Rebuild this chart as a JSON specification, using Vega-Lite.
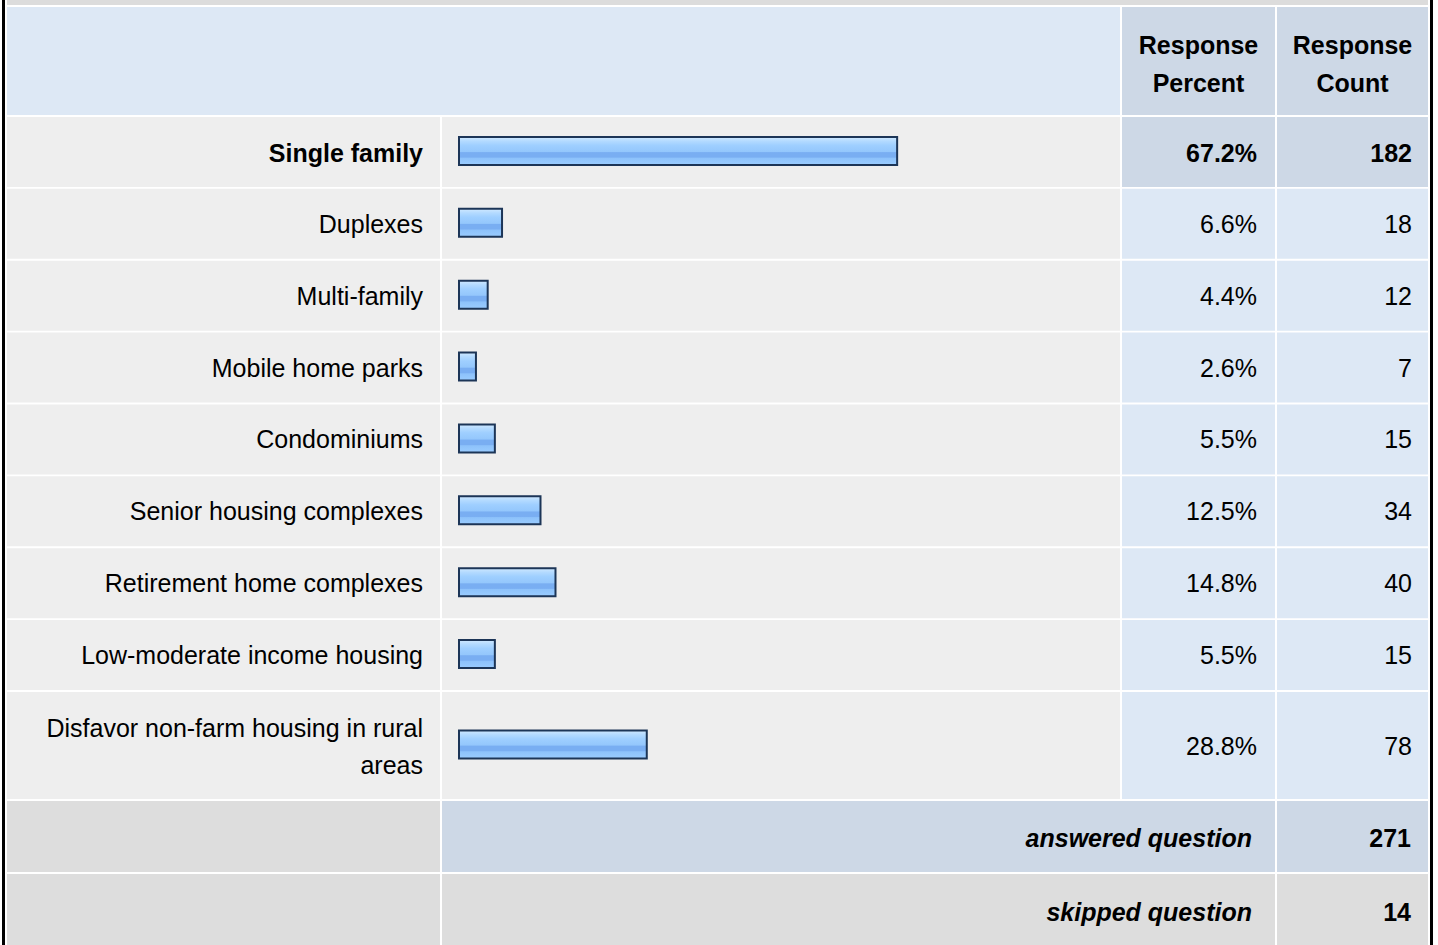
{
  "$schema": "https://vega.github.io/schema/vega-lite/v6.json",
  "background": "white",
  "padding": {"left": 2, "top": 0, "right": 0, "bottom": 0},
  "config": {
    "view": {"stroke": null},
    "concat": {"spacing": 2},
    "text": {"font": "Liberation Sans", "fontSize": 25, "color": "#000000", "letterSpacing": 0.2}
  },
  "datasets": {
    "responses": [
      {"answer": "Single family", "pct": 0.672, "count": 182},
      {"answer": "Duplexes", "pct": 0.066, "count": 18},
      {"answer": "Multi-family", "pct": 0.044, "count": 12},
      {"answer": "Mobile home parks", "pct": 0.026, "count": 7},
      {"answer": "Condominiums", "pct": 0.055, "count": 15},
      {"answer": "Senior housing complexes", "pct": 0.125, "count": 34},
      {"answer": "Retirement home complexes", "pct": 0.148, "count": 40},
      {"answer": "Low-moderate income housing", "pct": 0.055, "count": 15},
      {"answer": "Disfavor non-farm housing in rural\nareas", "pct": 0.288, "count": 78}
    ],
    "summary": [
      {"label": "answered question", "count": 271},
      {"label": "skipped question", "count": 14}
    ],
    "headers": [
      {"column": "Response\nPercent"},
      {"column": "Response\nCount"}
    ]
  },
  "hconcat": [
    {
      "width": 3, "height": 945,
      "view": {"fill": "#000000"},
      "data": {"values": [{}]},
      "mark": {"type": "rect", "color": "#000000"},
      "encoding": {"x": {"value": 0}, "x2": {"value": "width"}, "y": {"value": 0}, "y2": {"value": "height"}}
    },
    {
      "vconcat": [
        {
          "width": 1421, "height": 5,
          "view": {"fill": "#dcdcdc"},
          "data": {"values": [{}]},
          "mark": {"type": "rect", "color": "#dcdcdc"},
          "encoding": {"x": {"value": 0}, "x2": {"value": "width"}, "y": {"value": 0}, "y2": {"value": "height"}}
        },
        {
          "hconcat": [
            {
              "width": 1113, "height": 108,
              "view": {"fill": "#dde8f5"},
              "data": {"values": [{}]},
              "mark": {"type": "rect", "color": "#dde8f5"},
              "encoding": {"x": {"value": 0}, "x2": {"value": "width"}, "y": {"value": 0}, "y2": {"value": "height"}}
            },
            {
              "width": 153, "height": 108,
              "data": {"name": "headers"},
              "transform": [{"filter": "test(/Percent/, datum.column)"}],
              "encoding": {
                "x": {"field": "column", "type": "nominal", "axis": null},
                "y": {"field": "column", "type": "nominal", "axis": null, "scale": {"paddingInner": 0, "paddingOuter": 0}}
              },
              "layer": [
                {"mark": {"type": "rect", "color": "#cdd8e6"}},
                {"mark": {"type": "text", "align": "center", "baseline": "middle", "fontWeight": "bold", "letterSpacing": 0, "lineBreak": "\n", "lineHeight": 37.5, "dy": -15}, "encoding": {"text": {"field": "column"}}}
              ]
            },
            {
              "width": 151, "height": 108,
              "data": {"name": "headers"},
              "transform": [{"filter": "test(/Count/, datum.column)"}],
              "encoding": {
                "x": {"field": "column", "type": "nominal", "axis": null},
                "y": {"field": "column", "type": "nominal", "axis": null, "scale": {"paddingInner": 0, "paddingOuter": 0}}
              },
              "layer": [
                {"mark": {"type": "rect", "color": "#cdd8e6"}},
                {"mark": {"type": "text", "align": "center", "baseline": "middle", "fontWeight": "bold", "letterSpacing": 0, "lineBreak": "\n", "lineHeight": 37.5, "dy": -15}, "encoding": {"text": {"field": "column"}}}
              ]
            }
          ]
        },
        {
          "hconcat": [
            {
              "width": 433, "height": 573,
              "data": {"name": "responses"},
              "transform": [{"filter": "!test(/^Disfavor/, datum.answer)"}],
              "encoding": {"y": {"field": "answer", "type": "nominal", "sort": null, "axis": null, "scale": {"paddingInner": 0.0278, "paddingOuter": 0}}},
              "layer": [
                {"mark": {"type": "rect", "color": "#eeeeee"}, "encoding": {"x": {"value": 0}, "x2": {"value": "width"}}},
                {
                  "transform": [{"filter": "datum.answer !== 'Single family'"}],
                  "mark": {"type": "text", "align": "right", "baseline": "middle", "x": "width", "dx": -17, "dy": 1},
                  "encoding": {"text": {"field": "answer"}}
                },
                {
                  "transform": [{"filter": "datum.answer === 'Single family'"}],
                  "mark": {"type": "text", "align": "right", "baseline": "middle", "fontWeight": "bold", "x": "width", "dx": -17, "dy": 2},
                  "encoding": {"text": {"field": "answer"}}
                }
              ]
            },
            {
              "width": 678, "height": 573,
              "data": {"name": "responses"},
              "transform": [{"filter": "!test(/^Disfavor/, datum.answer)"}],
              "encoding": {"y": {"field": "answer", "type": "nominal", "sort": null, "axis": null, "scale": {"paddingInner": 0.0278, "paddingOuter": 0}}},
              "layer": [
                {"mark": {"type": "rect", "color": "#eeeeee"}, "encoding": {"x": {"value": 0}, "x2": {"value": "width"}}},
                {
                  "mark": {
                    "type": "bar", "height": 28, "yOffset": -1, "stroke": "#1c3557", "strokeWidth": 2,
                    "fill": {"gradient": "linear", "x1": 0, "y1": 0, "x2": 0, "y2": 1, "stops": [
                      {"offset": 0, "color": "#d0e9ff"},
                      {"offset": 0.15, "color": "#b3daff"},
                      {"offset": 0.3, "color": "#9fcfff"},
                      {"offset": 0.52, "color": "#94c7fc"},
                      {"offset": 0.56, "color": "#79aef2"},
                      {"offset": 0.72, "color": "#79aef2"},
                      {"offset": 0.76, "color": "#8dc2fb"},
                      {"offset": 1, "color": "#9accff"}
                    ]}
                  },
                  "encoding": {"x": {"field": "pct", "type": "quantitative", "axis": null, "scale": {"domain": [0, 1], "range": [17, 669]}}}
                }
              ]
            },
            {
              "width": 153, "height": 573,
              "data": {"name": "responses"},
              "transform": [{"filter": "!test(/^Disfavor/, datum.answer)"}],
              "encoding": {"y": {"field": "answer", "type": "nominal", "sort": null, "axis": null, "scale": {"paddingInner": 0.0278, "paddingOuter": 0}}},
              "layer": [
                {"mark": {"type": "rect"}, "encoding": {"x": {"value": 0}, "x2": {"value": "width"}, "color": {"condition": {"test": "datum.answer === 'Single family'", "value": "#cdd8e6"}, "value": "#dde8f5"}}},
                {
                  "transform": [{"filter": "datum.answer !== 'Single family'"}],
                  "mark": {"type": "text", "align": "right", "baseline": "middle", "x": "width", "dx": -18, "dy": 1},
                  "encoding": {"text": {"field": "pct", "type": "quantitative", "format": ".1%"}}
                },
                {
                  "transform": [{"filter": "datum.answer === 'Single family'"}],
                  "mark": {"type": "text", "align": "right", "baseline": "middle", "fontWeight": "bold", "x": "width", "dx": -18, "dy": 2},
                  "encoding": {"text": {"field": "pct", "type": "quantitative", "format": ".1%"}}
                }
              ]
            },
            {
              "width": 151, "height": 573,
              "data": {"name": "responses"},
              "transform": [{"filter": "!test(/^Disfavor/, datum.answer)"}],
              "encoding": {"y": {"field": "answer", "type": "nominal", "sort": null, "axis": null, "scale": {"paddingInner": 0.0278, "paddingOuter": 0}}},
              "layer": [
                {"mark": {"type": "rect"}, "encoding": {"x": {"value": 0}, "x2": {"value": "width"}, "color": {"condition": {"test": "datum.answer === 'Single family'", "value": "#cdd8e6"}, "value": "#dde8f5"}}},
                {
                  "transform": [{"filter": "datum.answer !== 'Single family'"}],
                  "mark": {"type": "text", "align": "right", "baseline": "middle", "x": "width", "dx": -16, "dy": 1},
                  "encoding": {"text": {"field": "count", "type": "quantitative", "format": "d"}}
                },
                {
                  "transform": [{"filter": "datum.answer === 'Single family'"}],
                  "mark": {"type": "text", "align": "right", "baseline": "middle", "fontWeight": "bold", "x": "width", "dx": -16, "dy": 2},
                  "encoding": {"text": {"field": "count", "type": "quantitative", "format": "d"}}
                }
              ]
            }
          ]
        },
        {
          "hconcat": [
            {
              "width": 433, "height": 107,
              "data": {"name": "responses"},
              "transform": [{"filter": "test(/^Disfavor/, datum.answer)"}],
              "encoding": {"y": {"field": "answer", "type": "nominal", "axis": null, "scale": {"paddingInner": 0, "paddingOuter": 0}}},
              "layer": [
                {"mark": {"type": "rect", "color": "#eeeeee"}, "encoding": {"x": {"value": 0}, "x2": {"value": "width"}}},
                {
                  "mark": {"type": "text", "align": "right", "baseline": "middle", "lineBreak": "\n", "lineHeight": 37.5, "x": "width", "dx": -17, "dy": -17},
                  "encoding": {"text": {"field": "answer"}}
                }
              ]
            },
            {
              "width": 678, "height": 107,
              "data": {"name": "responses"},
              "transform": [{"filter": "test(/^Disfavor/, datum.answer)"}],
              "encoding": {"y": {"field": "answer", "type": "nominal", "axis": null, "scale": {"paddingInner": 0, "paddingOuter": 0}}},
              "layer": [
                {"mark": {"type": "rect", "color": "#eeeeee"}, "encoding": {"x": {"value": 0}, "x2": {"value": "width"}}},
                {
                  "mark": {
                    "type": "bar", "height": 28, "yOffset": -1, "stroke": "#1c3557", "strokeWidth": 2,
                    "fill": {"gradient": "linear", "x1": 0, "y1": 0, "x2": 0, "y2": 1, "stops": [
                      {"offset": 0, "color": "#d0e9ff"},
                      {"offset": 0.15, "color": "#b3daff"},
                      {"offset": 0.3, "color": "#9fcfff"},
                      {"offset": 0.52, "color": "#94c7fc"},
                      {"offset": 0.56, "color": "#79aef2"},
                      {"offset": 0.72, "color": "#79aef2"},
                      {"offset": 0.76, "color": "#8dc2fb"},
                      {"offset": 1, "color": "#9accff"}
                    ]}
                  },
                  "encoding": {"x": {"field": "pct", "type": "quantitative", "axis": null, "scale": {"domain": [0, 1], "range": [17, 669]}}}
                }
              ]
            },
            {
              "width": 153, "height": 107,
              "data": {"name": "responses"},
              "transform": [{"filter": "test(/^Disfavor/, datum.answer)"}],
              "encoding": {"y": {"field": "answer", "type": "nominal", "axis": null, "scale": {"paddingInner": 0, "paddingOuter": 0}}},
              "layer": [
                {"mark": {"type": "rect", "color": "#dde8f5"}, "encoding": {"x": {"value": 0}, "x2": {"value": "width"}}},
                {
                  "mark": {"type": "text", "align": "right", "baseline": "middle", "x": "width", "dx": -18, "dy": 1},
                  "encoding": {"text": {"field": "pct", "type": "quantitative", "format": ".1%"}}
                }
              ]
            },
            {
              "width": 151, "height": 107,
              "data": {"name": "responses"},
              "transform": [{"filter": "test(/^Disfavor/, datum.answer)"}],
              "encoding": {"y": {"field": "answer", "type": "nominal", "axis": null, "scale": {"paddingInner": 0, "paddingOuter": 0}}},
              "layer": [
                {"mark": {"type": "rect", "color": "#dde8f5"}, "encoding": {"x": {"value": 0}, "x2": {"value": "width"}}},
                {
                  "mark": {"type": "text", "align": "right", "baseline": "middle", "x": "width", "dx": -16, "dy": 1},
                  "encoding": {"text": {"field": "count", "type": "quantitative", "format": "d"}}
                }
              ]
            }
          ]
        },
        {
          "hconcat": [
            {
              "width": 433, "height": 144,
              "data": {"name": "summary"},
              "encoding": {"y": {"field": "label", "type": "nominal", "sort": null, "axis": null, "scale": {"paddingInner": 0.0274, "paddingOuter": 0}}},
              "mark": {"type": "rect", "color": "#dddddd"}
            },
            {
              "width": 833, "height": 144,
              "data": {"name": "summary"},
              "encoding": {"y": {"field": "label", "type": "nominal", "sort": null, "axis": null, "scale": {"paddingInner": 0.0274, "paddingOuter": 0}}},
              "layer": [
                {"mark": {"type": "rect"}, "encoding": {"x": {"value": 0}, "x2": {"value": "width"}, "color": {"condition": {"test": "datum.label === 'answered question'", "value": "#cdd8e6"}, "value": "#dddddd"}}},
                {
                  "mark": {"type": "text", "align": "right", "baseline": "middle", "fontWeight": "bold", "fontStyle": "italic", "x": "width", "dx": -23, "dy": 3},
                  "encoding": {"text": {"field": "label"}}
                }
              ]
            },
            {
              "width": 151, "height": 144,
              "data": {"name": "summary"},
              "encoding": {"y": {"field": "label", "type": "nominal", "sort": null, "axis": null, "scale": {"paddingInner": 0.0274, "paddingOuter": 0}}},
              "layer": [
                {"mark": {"type": "rect"}, "encoding": {"x": {"value": 0}, "x2": {"value": "width"}, "color": {"condition": {"test": "datum.label === 'answered question'", "value": "#cdd8e6"}, "value": "#dddddd"}}},
                {
                  "mark": {"type": "text", "align": "right", "baseline": "middle", "fontWeight": "bold", "x": "width", "dx": -17, "dy": 3},
                  "encoding": {"text": {"field": "count", "type": "quantitative", "format": "d"}}
                }
              ]
            }
          ]
        }
      ]
    },
    {
      "width": 3, "height": 945,
      "view": {"fill": "#000000"},
      "data": {"values": [{}]},
      "mark": {"type": "rect", "color": "#000000"},
      "encoding": {"x": {"value": 0}, "x2": {"value": "width"}, "y": {"value": 0}, "y2": {"value": "height"}}
    }
  ]
}
